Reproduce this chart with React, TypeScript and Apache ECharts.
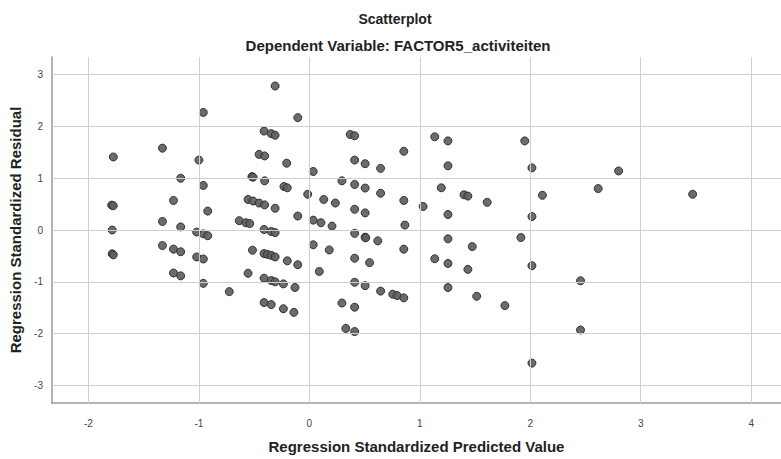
import React, { useEffect, useRef } from "react";
import * as echarts from "echarts";

const predicted: number[] = [
  -0.96, -1.33, -1.775, -1.0, -1.165, -0.96, -1.79, -1.775, -1.23, -0.92,
  -1.33, -1.165, -1.785, -1.02, -0.96, -0.92, -1.785, -1.775, -1.33, -1.23,
  -1.165, -1.02, -0.96, -1.23, -1.165, -0.96, -0.725,
  -0.31, -0.105, -0.41, -0.345, -0.31, 0.37, 0.41, 0.855, -0.455, -0.405,
  -0.205, 0.41, 0.505, 0.645, 0.035, -0.52, -0.51, -0.405, 0.295, 0.41,
  0.505, 0.645, -0.23, -0.2, -0.015, 0.13, 0.235, 0.41, 0.505, 0.855,
  -0.555, -0.51, -0.455, -0.405, -0.31, -0.105, -0.635, -0.575, -0.54,
  0.035, 0.105, 0.205, 0.865, -0.41, -0.345, -0.31, 0.41, 0.505, 0.51,
  0.62, -0.515, -0.41, -0.38, -0.345, -0.31, 0.035, 0.18, 0.855, 0.41,
  0.545, -0.2, -0.105, -0.555, 0.09, -0.41, -0.345, -0.31, -0.235, -0.13,
  0.41, 0.505, 0.645, 0.755, 0.795, 0.855, -0.41, -0.345, -0.235, -0.14,
  0.295, 0.41, 0.33, 0.41,
  1.135, 1.255, 1.95, 1.255, 2.015, 1.195, 1.4, 1.435, 2.11, 2.615,
  1.03, 1.255, 1.61, 2.015, 1.255, 1.475, 1.915, 1.135, 1.255, 1.435,
  2.015, 2.455, 1.255, 1.515, 1.77, 2.455, 2.015, 2.8, 3.47,
];

const residual: number[] = [
  2.27, 1.58, 1.41, 1.35, 1.0, 0.86, 0.48, 0.47, 0.57, 0.365,
  0.165, 0.06, 0.0, -0.04, -0.075, -0.11, -0.46, -0.48, -0.3, -0.37,
  -0.42, -0.52, -0.56, -0.83, -0.885, -1.03, -1.19,
  2.78, 2.17, 1.91, 1.86, 1.83, 1.845, 1.82, 1.52, 1.46, 1.43,
  1.29, 1.35, 1.28, 1.19, 1.13, 1.03, 1.02, 0.95, 0.95, 0.88,
  0.81, 0.71, 0.84, 0.815, 0.69, 0.59, 0.52, 0.4, 0.33, 0.57,
  0.59, 0.56, 0.52, 0.485, 0.42, 0.27, 0.18, 0.14, 0.125,
  0.19, 0.14, 0.075, 0.095, 0.01, -0.03, -0.05, -0.065, -0.14, -0.15,
  -0.21, -0.39, -0.455, -0.47, -0.49, -0.52, -0.285, -0.385, -0.37, -0.545,
  -0.63, -0.595, -0.67, -0.835, -0.8, -0.93, -0.975, -1.0, -1.04, -1.11,
  -1.01, -1.075, -1.18, -1.24, -1.265, -1.31, -1.4, -1.44, -1.52, -1.59,
  -1.41, -1.49, -1.9, -1.96,
  1.8, 1.72, 1.72, 1.24, 1.2, 0.815, 0.68, 0.655, 0.67, 0.8,
  0.455, 0.3, 0.535, 0.26, -0.17, -0.32, -0.145, -0.555, -0.645, -0.76,
  -0.69, -0.98, -1.11, -1.28, -1.46, -1.93, -2.57, 1.14, 0.69,
];

const xTicks: number[] = [-2, -1, 0, 1, 2, 3, 4];
const yTicks: number[] = [-3, -2, -1, 0, 1, 2, 3];

const FONT = "'Liberation Sans', Arial, sans-serif";

export default function App() {
  const ref = useRef<HTMLDivElement>(null);

  useEffect(() => {
    document.body.style.margin = "0";
    if (!ref.current) return;
    const chart = echarts.init(ref.current, null, { renderer: "svg" });
    const points = predicted.map((x, i) => [x, residual[i]]);
    const gridLine = { color: "#cfcfcf", width: 1, type: "solid" as const };
    const isTick = (v: number) => Math.abs(v - Math.round(v)) < 1e-6;

    chart.setOption({
      animation: false,
      backgroundColor: "#ffffff",
      title: [
        {
          text: "Scatterplot",
          left: 390,
          textAlign: "center",
          top: 7,
          textStyle: { fontFamily: FONT, fontSize: 14, fontWeight: "bold", color: "#222" },
        },
        {
          text: "Dependent Variable: FACTOR5_activiteiten",
          left: 393,
          textAlign: "center",
          top: 33,
          textStyle: { fontFamily: FONT, fontSize: 15, fontWeight: "bold", color: "#222" },
        },
      ],
      grid: { left: 52, right: -2, top: 57, bottom: 50, containLabel: false },
      xAxis: {
        type: "value",
        min: -2.33,
        max: 4.27,
        name: "Regression Standardized Predicted Value",
        nameLocation: "middle",
        nameGap: 36,
        nameTextStyle: { fontFamily: FONT, fontSize: 15, fontWeight: "bold", color: "#222" },
        axisLine: { show: true, onZero: false, lineStyle: { color: "#9a9a9a", width: 1.5 } },
        axisTick: { show: false },
        splitLine: { show: false },
        axisLabel: {
          fontFamily: FONT,
          fontSize: 10,
          color: "#444",
          margin: 15,
          showMinLabel: false,
          showMaxLabel: false,
          formatter: (v: number) => (isTick(v) ? String(Math.round(v)) : ""),
        },
      },
      yAxis: {
        type: "value",
        min: -3.34,
        max: 3.34,
        name: "Regression Standardized Residual",
        nameLocation: "middle",
        nameGap: 28,
        nameTextStyle: { fontFamily: FONT, fontSize: 15, fontWeight: "bold", color: "#222" },
        axisLine: { show: true, onZero: false, lineStyle: { color: "#9a9a9a", width: 1.5 } },
        axisTick: { show: false },
        splitLine: { show: false },
        axisLabel: {
          fontFamily: FONT,
          fontSize: 10,
          color: "#444",
          margin: 9,
          showMinLabel: false,
          showMaxLabel: false,
          formatter: (v: number) => (isTick(v) ? String(Math.round(v)) : ""),
        },
      },
      series: [
        {
          type: "scatter",
          data: [],
          z: 1,
          silent: true,
          markLine: {
            silent: true,
            symbol: "none",
            label: { show: false },
            lineStyle: gridLine,
            data: [
              ...xTicks.map((v) => ({ xAxis: v })),
              ...yTicks.map((v) => ({ yAxis: v })),
            ],
          },
        },
        {
          type: "scatter",
          data: points,
          z: 3,
          symbol: "circle",
          symbolSize: 8,
          itemStyle: {
            color: "#5e5e5e",
            borderColor: "#2a2a2a",
            borderWidth: 1,
            opacity: 0.92,
          },
        },
      ],
    });

    return () => {
      chart.dispose();
    };
  }, []);

  return <div ref={ref} style={{ width: 781, height: 459 }} />;
}
